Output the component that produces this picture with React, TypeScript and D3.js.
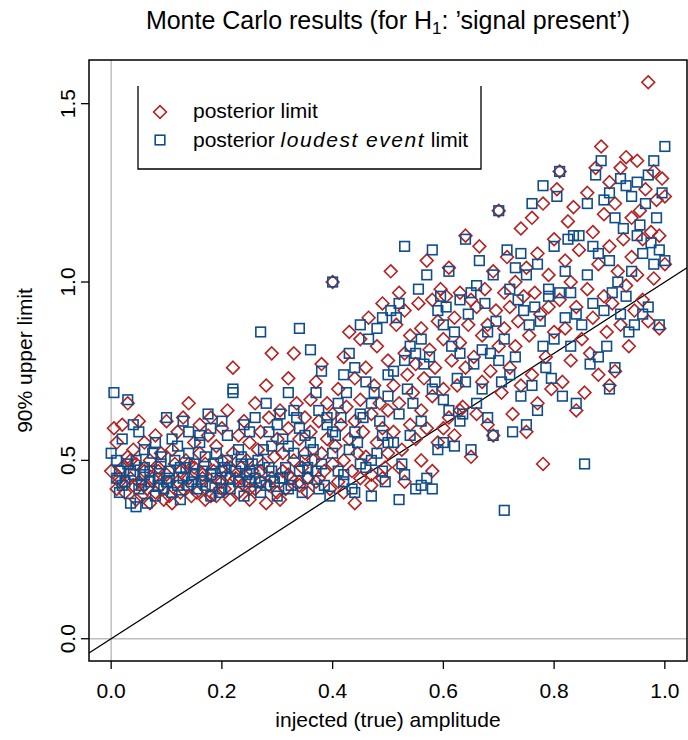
import React from "react";
import * as d3 from "d3";

// injected (true) amplitude of each simulated signal
const amplitude = [
  0.00,0.005,0.01,0.01,0.015,0.02,0.02,0.025,0.03,0.03,0.035,0.04,0.04,0.045,0.045,0.05,
  0.05,0.055,0.06,0.06,0.065,0.07,0.07,0.075,0.08,0.08,0.085,0.09,0.09,0.095,0.10,0.10,
  0.105,0.11,0.11,0.115,0.12,0.12,0.125,0.13,0.13,0.135,0.14,0.14,0.145,0.15,0.15,
  0.155,0.16,0.16,0.165,0.17,0.17,0.175,0.18,0.18,0.185,0.19,0.19,0.195,0.20,0.20,
  0.205,0.21,0.21,0.215,0.22,0.22,0.225,0.23,0.23,0.235,0.24,0.24,0.245,0.25,0.25,
  0.255,0.26,0.26,0.265,0.27,0.27,0.275,0.28,0.28,0.285,0.29,0.29,0.295,0.30,0.30,
  0.305,0.31,0.31,0.315,0.32,0.32,0.325,0.33,0.33,0.335,0.34,0.34,0.345,0.35,0.35,
  0.355,0.36,0.36,0.365,0.37,0.37,0.375,0.38,0.38,0.385,0.39,0.39,0.395,0.40,0.40,0.40,
  0.405,0.41,0.41,0.415,0.42,0.42,0.425,0.43,0.43,0.435,0.44,0.44,0.445,0.45,0.45,0.45,
  0.455,0.46,0.46,0.465,0.47,0.47,0.475,0.48,0.48,0.485,0.49,0.49,0.495,0.50,0.50,0.50,
  0.505,0.51,0.51,0.515,0.52,0.52,0.525,0.53,0.53,0.535,0.54,0.54,0.545,0.55,0.55,
  0.555,0.56,0.56,0.565,0.57,0.57,0.575,0.58,0.58,0.585,0.59,0.59,0.595,0.60,0.60,
  0.605,0.61,0.61,0.615,0.62,0.62,0.625,0.63,0.63,0.635,0.64,0.64,0.645,0.65,0.65,
  0.655,0.66,0.66,0.665,0.67,0.67,0.675,0.68,0.68,0.685,0.69,0.69,0.695,0.70,0.70,
  0.705,0.71,0.71,0.715,0.72,0.72,0.725,0.73,0.73,0.735,0.74,0.74,0.745,0.75,0.75,
  0.755,0.76,0.76,0.765,0.77,0.77,0.775,0.78,0.78,0.785,0.79,0.79,0.795,0.80,0.80,
  0.805,0.81,0.81,0.815,0.82,0.82,0.825,0.83,0.83,0.835,0.84,0.84,0.845,0.85,0.855,
  0.86,0.86,0.865,0.87,0.87,0.875,0.88,0.88,0.885,0.89,0.89,0.895,0.90,0.90,0.90,
  0.905,0.91,0.91,0.915,0.92,0.92,0.925,0.93,0.93,0.935,0.94,0.94,0.945,0.95,0.95,
  0.955,0.96,0.96,0.965,0.97,0.97,0.975,0.98,0.98,0.985,0.99,0.99,0.995,1.00,1.00,
  0.015,0.035,0.06,0.085,0.105,0.125,0.14,0.165,0.18,0.20,0.215,0.235,0.25,0.27,0.285,0.305,0.32,0.34,0.355,0.375,
  0.42,0.44,0.47,0.49,0.52,0.53,0.56,0.58,0.60,0.63,
];

// posterior 90% upper limit (diamonds)
const posteriorLimit = [
  0.47,0.59,0.42,0.55,0.44,0.48,0.60,0.41,0.66,0.51,0.45,0.43,0.53,0.39,0.49,0.44,
  0.61,0.40,0.47,0.55,0.42,0.38,0.50,0.45,0.41,0.57,0.48,0.43,0.52,0.39,0.46,0.61,
  0.40,0.53,0.38,0.49,0.44,0.58,0.47,0.62,0.42,0.50,0.66,0.45,0.40,0.55,0.48,
  0.41,0.52,0.60,0.45,0.39,0.49,0.57,0.43,0.62,0.47,0.40,0.54,0.44,0.50,0.59,
  0.42,0.46,0.64,0.39,0.76,0.52,0.45,0.41,0.57,0.48,0.61,0.43,0.50,0.55,0.39,
  0.47,0.66,0.42,0.53,0.58,0.44,0.49,0.71,0.38,0.62,0.80,0.45,0.51,0.41,0.56,
  0.64,0.47,0.52,0.42,0.73,0.59,0.45,0.80,0.50,0.66,0.43,0.56,0.48,0.62,0.52,
  0.45,0.67,0.58,0.50,0.72,0.44,0.61,0.77,0.52,0.47,0.66,0.56,0.42,1.00,0.63,0.49,
  0.54,0.70,0.44,0.60,0.79,0.50,0.65,0.86,0.56,0.47,0.73,0.61,0.52,0.84,0.67,0.45,
  0.58,0.76,0.51,0.90,0.63,0.46,0.71,0.82,0.55,0.66,0.94,0.59,0.48,0.78,0.64,0.52,
  1.03,0.71,0.58,0.88,0.97,0.66,0.53,0.80,0.92,0.74,0.60,0.85,0.69,0.56,0.77,
  0.94,0.64,0.87,0.73,1.06,0.59,0.81,0.68,0.95,0.76,0.89,0.55,0.98,0.70,0.84,
  0.96,0.62,1.04,0.78,0.90,0.57,0.71,0.97,0.83,0.65,1.13,0.76,0.88,0.51,0.95,
  0.79,0.63,0.93,1.10,0.85,0.72,0.98,0.60,0.88,0.75,1.03,0.57,0.92,0.82,1.20,
  0.69,0.97,0.87,1.07,0.76,0.93,0.63,1.00,0.82,0.89,1.15,0.71,0.96,0.58,1.04,
  0.85,1.18,0.74,0.97,1.08,0.66,0.91,0.49,1.22,0.79,1.02,0.93,0.70,1.12,0.86,
  1.26,0.95,1.31,0.72,1.06,0.87,1.17,0.78,1.00,1.21,0.64,0.93,1.09,0.84,0.69,
  1.25,0.98,0.80,1.14,0.90,1.32,1.05,0.74,1.38,0.96,1.19,0.86,1.10,0.71,1.28,
  0.94,1.22,0.75,1.03,1.32,0.88,1.12,0.99,1.35,0.82,1.18,1.07,0.92,1.34,1.02,
  1.20,0.95,1.12,1.26,1.56,0.89,1.14,1.31,1.01,1.23,0.87,1.13,1.29,1.05,1.24,
  0.45,0.50,0.43,0.47,0.44,0.41,0.49,0.46,0.40,0.44,0.48,0.45,0.42,0.47,0.43,0.39,0.46,0.44,0.41,0.45,
  0.41,0.38,0.43,0.45,0.48,0.44,0.50,0.47,0.59,0.64,
];

// posterior "loudest event" 90% upper limit (squares)
const loudestLimit = [
  0.52,0.69,0.45,0.50,0.47,0.43,0.56,0.44,0.67,0.49,0.38,0.46,0.60,0.37,0.50,0.42,
  0.58,0.43,0.48,0.53,0.38,0.44,0.47,0.52,0.40,0.55,0.45,0.49,0.51,0.42,0.44,0.62,
  0.47,0.56,0.41,0.50,0.43,0.54,0.39,0.61,0.45,0.48,0.58,0.52,0.44,0.49,0.46,
  0.42,0.55,0.57,0.47,0.43,0.51,0.63,0.40,0.59,0.49,0.45,0.52,0.41,0.47,0.61,
  0.48,0.50,0.57,0.42,0.70,0.69,0.47,0.44,0.53,0.51,0.60,0.40,0.46,0.58,0.44,
  0.49,0.62,0.45,0.50,0.86,0.41,0.53,0.66,0.43,0.58,0.54,0.47,0.44,0.40,0.60,
  0.63,0.45,0.56,0.48,0.69,0.54,0.43,0.64,0.52,0.62,0.87,0.59,0.41,0.57,0.50,
  0.48,0.81,0.55,0.53,0.69,0.47,0.64,0.75,0.49,0.43,0.62,0.60,0.40,1.00,0.58,0.52,
  0.57,0.66,0.47,0.62,0.74,0.46,0.69,0.80,0.53,0.42,0.76,0.58,0.55,0.88,0.63,0.49,
  0.62,0.72,0.48,0.84,0.66,0.50,0.69,0.87,0.52,0.61,0.90,0.57,0.44,0.74,0.68,0.55,
  0.92,0.75,0.55,0.90,0.94,0.63,0.49,0.78,1.10,0.70,0.57,0.82,0.66,0.42,0.80,
  0.98,0.61,0.84,0.77,1.02,0.45,0.79,0.70,1.09,0.72,0.92,0.53,0.96,0.67,0.88,
  0.93,0.64,1.03,0.82,0.86,0.54,0.73,0.95,0.80,0.63,1.12,0.72,0.91,0.53,0.97,
  0.77,0.66,0.99,1.06,0.81,0.70,0.94,0.62,0.86,0.80,1.02,0.57,0.89,0.78,1.20,
  0.72,0.36,0.84,1.09,0.74,0.98,0.58,1.04,0.79,0.95,1.08,0.68,0.92,0.60,1.02,
  0.88,1.22,0.71,0.93,1.05,0.64,0.89,0.82,1.27,0.76,0.98,0.96,0.73,1.10,0.84,
  1.24,0.97,1.31,0.68,1.03,0.90,1.12,0.82,0.97,1.13,0.66,0.91,1.13,0.88,0.49,
  1.22,1.02,0.77,1.10,0.94,1.30,1.08,0.79,1.34,0.92,1.23,0.82,1.06,0.70,1.25,
  0.97,1.18,0.76,1.00,1.29,0.91,1.15,0.96,1.27,0.86,1.24,1.03,0.88,1.28,1.13,
  1.16,0.91,1.08,1.22,1.30,0.93,1.11,1.34,1.05,1.18,0.88,1.09,1.25,1.06,1.38,
  0.41,0.47,0.46,0.43,0.45,0.48,0.43,0.44,0.46,0.42,0.45,0.49,0.47,0.44,0.48,0.45,0.42,0.47,0.45,0.42,
  0.44,0.41,0.40,0.47,0.39,0.46,0.43,0.42,0.55,0.61,
];

const xTicks = [0, 0.2, 0.4, 0.6, 0.8, 1.0];
const yTicks = [0, 0.5, 1.0, 1.5];
const legendLabels = ["posterior limit", "posterior loudest event limit"];

const RED = "#B22222";
const BLUE = "#104E8B";
const FONT = "'Liberation Sans', Arial, Helvetica, sans-serif";

const W = 688, H = 740;
const L = 89, R = 687, T = 60, B = 661;

export default function App() {
  const xMax = d3.max(amplitude) as number;
  const xMin = d3.min(amplitude) as number;
  const yMax = Math.max(d3.max(posteriorLimit) as number, d3.max(loudestLimit) as number);
  const yMin = 0;
  const xPad = (xMax - xMin) * 0.04;
  const yPad = (yMax - yMin) * 0.04;
  const x = d3.scaleLinear().domain([xMin - xPad, xMax + xPad]).range([L, R]);
  const y = d3.scaleLinear().domain([yMin - yPad, yMax + yPad]).range([B, T]);

  const dr = 6.4;
  const sq = 9.6;
  const diamond = (cx: number, cy: number) =>
    `M${cx},${cy - dr}L${cx + dr},${cy}L${cx},${cy + dr}L${cx - dr},${cy}Z`;

  const [d0, d1] = x.domain();

  return (
    <svg width={W} height={H} style={{ position: "absolute", left: 0, top: 0, background: "#fff" }}
      fontFamily={FONT}>
      <rect width={W} height={H} fill="#fff" />
      <defs>
        <clipPath id="plotclip"><rect x={L} y={T} width={R - L} height={B - T} /></clipPath>
      </defs>
      {/* reference lines */}
      <g clipPath="url(#plotclip)">
        <line x1={x(0)} x2={x(0)} y1={T} y2={B} stroke="#BEBEBE" strokeWidth={1.5} />
        <line x1={L} x2={R} y1={y(0)} y2={y(0)} stroke="#BEBEBE" strokeWidth={1.5} />
        <line x1={x(d0)} y1={y(d0)} x2={x(d1)} y2={y(d1)} stroke="#000" strokeWidth={1.3} />
      </g>
      {/* points */}
      <g fill="none" strokeWidth={1.6}>
        {amplitude.map((a, i) => (
          <path key={"d" + i} d={diamond(x(a), y(posteriorLimit[i]))} stroke={RED} />
        ))}
        {amplitude.map((a, i) => (
          <rect key={"s" + i} x={x(a) - sq / 2} y={y(loudestLimit[i]) - sq / 2}
            width={sq} height={sq} stroke={BLUE} />
        ))}
      </g>
      {/* box */}
      <rect x={L} y={T} width={R - L} height={B - T} fill="none" stroke="#000" strokeWidth={1.5} />
      {/* x axis */}
      <g>
        {xTicks.map((t) => (
          <g key={t}>
            <line x1={x(t)} x2={x(t)} y1={B} y2={B + 8} stroke="#000" strokeWidth={1.3} />
            <text x={x(t)} y={698} fontSize={21} textAnchor="middle">{t.toFixed(1)}</text>
          </g>
        ))}
      </g>
      {/* y axis */}
      <g>
        {yTicks.map((t) => (
          <g key={t}>
            <line x1={L} x2={L - 8} y1={y(t)} y2={y(t)} stroke="#000" strokeWidth={1.3} />
            <text transform={`translate(75,${y(t)}) rotate(-90)`} fontSize={21} textAnchor="middle">
              {t.toFixed(1)}
            </text>
          </g>
        ))}
      </g>
      {/* titles */}
      <text x={(L + R) / 2} y={29} fontSize={25} textAnchor="middle">
        Monte Carlo results (for H<tspan dy={5} fontSize={17}>1</tspan>
        <tspan dy={-5}>: ’signal present’)</tspan>
      </text>
      <text x={(L + R) / 2} y={727} fontSize={21} textAnchor="middle">injected (true) amplitude</text>
      <text transform={`translate(32,${(T + B) / 2}) rotate(-90)`} fontSize={21} textAnchor="middle">
        90% upper limit
      </text>
      {/* legend */}
      <path d={`M138,86V169H481V86`} fill="none" stroke="#000" strokeWidth={1.3} />
      <path d={diamond(160, 112)} fill="none" stroke={RED} strokeWidth={1.6} />
      <rect x={160 - sq / 2} y={140 - sq / 2} width={sq} height={sq} fill="none" stroke={BLUE} strokeWidth={1.6} />
      <text x={193} y={118} fontSize={21}>{legendLabels[0]}</text>
      <text x={193} y={147} fontSize={21}>
        posterior <tspan fontStyle="italic" letterSpacing={1.5}>loudest event</tspan> limit
      </text>
    </svg>
  );
}
